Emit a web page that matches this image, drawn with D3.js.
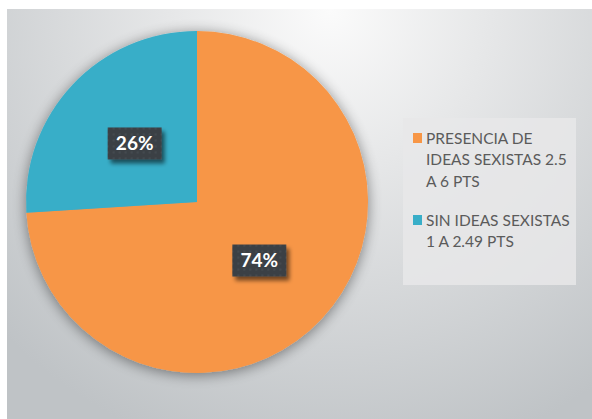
<!DOCTYPE html>
<html><head><meta charset="utf-8">
<script src="https://cdn.jsdelivr.net/npm/d3@7"></script>
<style>html,body{margin:0;padding:0;background:#fff;}svg{display:block;}</style>
</head><body>
<svg id="c" width="592" height="419"></svg>
<script>
const categories = ["PRESENCIA DE IDEAS SEXISTAS 2.5 A 6 PTS", "SIN IDEAS SEXISTAS 1 A 2.49 PTS"];
const legendLines = [["PRESENCIA DE", "IDEAS SEXISTAS 2.5", "A 6 PTS"], ["SIN IDEAS SEXISTAS", "1 A 2.49 PTS"]];
const values = [74, 26];
const labels = ["74%", "26%"];
const colors = ["#f79646", "#38aec8"];

const svg = d3.select("#c");
const defs = svg.append("defs");

const bg = defs.append("radialGradient").attr("id", "bg")
  .attr("gradientUnits", "userSpaceOnUse")
  .attr("cx", 330).attr("cy", 10).attr("r", 460);
bg.append("stop").attr("offset", "0").attr("stop-color", "#fbfbfb");
bg.append("stop").attr("offset", "0.35").attr("stop-color", "#e6e7e8");
bg.append("stop").attr("offset", "1").attr("stop-color", "#bfc3c6");

const sh = defs.append("filter").attr("id", "pieShadow")
  .attr("x", "-30%").attr("y", "-30%").attr("width", "160%").attr("height", "160%");
sh.append("feGaussianBlur").attr("in", "SourceAlpha").attr("stdDeviation", 7).attr("result", "b");
sh.append("feOffset").attr("in", "b").attr("dx", 0).attr("dy", 2).attr("result", "o");
sh.append("feComponentTransfer").attr("in", "o").attr("result", "s")
  .append("feFuncA").attr("type", "linear").attr("slope", 0.45);
const m1 = sh.append("feMerge");
m1.append("feMergeNode").attr("in", "s");
m1.append("feMergeNode").attr("in", "SourceGraphic");

const lsh = defs.append("filter").attr("id", "lblShadow")
  .attr("x", "-30%").attr("y", "-30%").attr("width", "160%").attr("height", "170%");
lsh.append("feGaussianBlur").attr("in", "SourceAlpha").attr("stdDeviation", 2).attr("result", "b");
lsh.append("feOffset").attr("in", "b").attr("dx", 3).attr("dy", 4).attr("result", "o");
lsh.append("feComponentTransfer").attr("in", "o").attr("result", "s")
  .append("feFuncA").attr("type", "linear").attr("slope", 0.55);
const m2 = lsh.append("feMerge");
m2.append("feMergeNode").attr("in", "s");
m2.append("feMergeNode").attr("in", "SourceGraphic");

const pat = defs.append("pattern").attr("id", "dots").attr("patternUnits", "userSpaceOnUse")
  .attr("width", 6).attr("height", 6);
pat.append("rect").attr("width", 6).attr("height", 6).attr("fill", "#3a3f44");
pat.append("circle").attr("cx", 3).attr("cy", 3).attr("r", 1.3).attr("fill", "#444a50");

// background
svg.append("rect").attr("x", 7).attr("y", 9).attr("width", 585).attr("height", 410).attr("fill", "url(#bg)");

const cx = 197, cy = 202, R = 171;
const pie = d3.pie().sort(null).value(d => d);
const arcs = pie(values);
const arc = d3.arc().innerRadius(0).outerRadius(R);

const g = svg.append("g").attr("transform", `translate(${cx},${cy})`);
g.append("g").attr("filter", "url(#pieShadow)")
  .selectAll("path").data(arcs).join("path")
  .attr("d", arc).attr("fill", (d, i) => colors[i]);

const lg = g.selectAll("g.lbl").data(arcs).join("g").attr("class", "lbl")
  .attr("transform", d => `translate(${arc.centroid(d)})`);
lg.append("rect").attr("x", -27).attr("y", -16).attr("width", 54).attr("height", 32)
  .attr("fill", "url(#dots)").attr("filter", "url(#lblShadow)");
lg.append("text").attr("text-anchor", "middle").attr("dy", "0.36em")
  .attr("font-family", "Lato, 'Open Sans', sans-serif").attr("font-weight", 700)
  .attr("font-size", 19).attr("fill", "#ffffff")
  .text((d, i) => labels[i]);

// legend
svg.append("rect").attr("x", 403).attr("y", 118).attr("width", 173).attr("height", 167)
  .attr("fill", "#e7e8e9").attr("opacity", 0.85);
const legTop = [138, 220];
const leg = svg.selectAll("g.leg").data(categories).join("g").attr("class", "leg");
leg.append("rect").attr("x", 413).attr("y", (d, i) => legTop[i] - 5).attr("width", 9).attr("height", 10)
  .attr("fill", (d, i) => colors[i]);
leg.each(function(d, i) {
  const t = d3.select(this).append("text")
    .attr("font-family", "Lato, 'Open Sans', sans-serif").attr("font-size", 15.5)
    .attr("fill", "#5b5b5b");
  legendLines[i].forEach((ln, j) => {
    t.append("tspan").attr("x", 426).attr("y", legTop[i] + 5.5 + j * 21.8).text(ln);
  });
});
</script>
</body></html>
